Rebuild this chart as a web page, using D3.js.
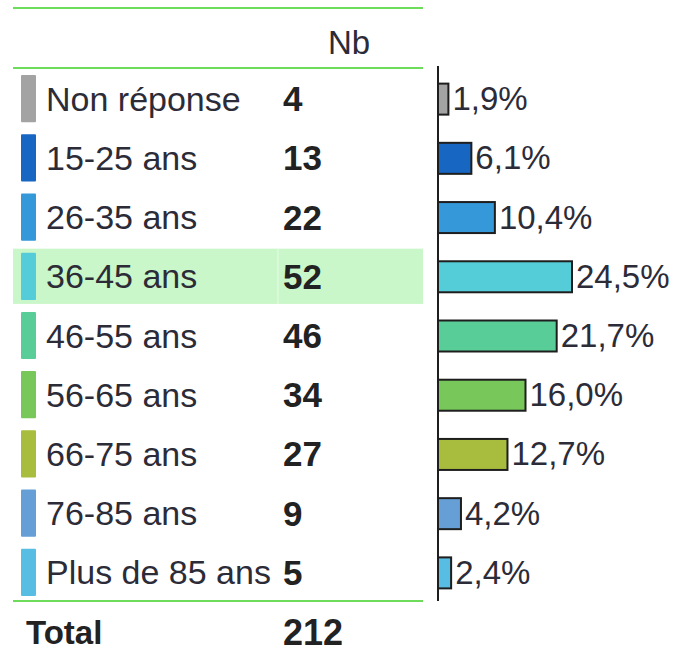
<!DOCTYPE html>
<html>
<head>
    <meta charset="utf-8">
    <style>
        body { margin: 0; background: #ffffff; }
        text { font-family: Arial, "Liberation Sans", sans-serif; }
    </style>
    <script src="https://d3js.org/d3.v7.min.js"></script>
</head>
<body>
<div id="chart"></div>
<script>

    // données
    var categories = ["Non réponse", "15-25 ans", "26-35 ans", "36-45 ans", "46-55 ans",
                      "56-65 ans", "66-75 ans", "76-85 ans", "Plus de 85 ans"];
    var counts = [4, 13, 22, 52, 46, 34, 27, 9, 5];
    var percents = [1.9, 6.1, 10.4, 24.5, 21.7, 16.0, 12.7, 4.2, 2.4];
    var colors = ["#a3a3a3", "#1766c2", "#3598d8", "#55cdd8", "#58cd98",
                  "#77c75b", "#a8bd3d", "#659fd6", "#58bde3"];
    var total = 212;
    var highlighted = "36-45 ans";

    var W = 684, H = 655;
    var textCol = "#2c2c38";
    var lineCol = "#6cdc5a";

    var svg = d3.select("#chart").append("svg")
        .attr("width", W)
        .attr("height", H);

    var y = d3.scaleBand()
        .domain(categories)
        .range([70, 603])
        .paddingInner(0);

    var x = d3.scaleLinear()
        .domain([0, 24.5])
        .range([438, 572]);

    var rows = categories.map(function(c, i) {
        return { cat: c, n: counts[i], pct: percents[i], col: colors[i] };
    });

    // ligne surlignée
    svg.append("rect")
        .attr("x", 13)
        .attr("y", y(highlighted) + 1)
        .attr("width", 410)
        .attr("height", y.bandwidth() - 4)
        .attr("fill", "#c9f7c9");

    svg.append("line")
        .attr("x1", 278).attr("x2", 278)
        .attr("y1", y(highlighted) + 1)
        .attr("y2", y(highlighted) + y.bandwidth() - 3)
        .attr("stroke", "#e8fbe8")
        .attr("stroke-width", 1);

    // lignes vertes du tableau
    [8, 68, 601].forEach(function(ly) {
        svg.append("line")
            .attr("x1", 13).attr("x2", 423)
            .attr("y1", ly).attr("y2", ly)
            .attr("stroke", lineCol)
            .attr("stroke-width", 2);
    });

    svg.append("text")
        .attr("x", 328)
        .attr("y", 42)
        .attr("fill", textCol)
        .attr("font-size", 33)
        .attr("dominant-baseline", "central")
        .text("Nb");

    var table = svg.append("g");

    table.selectAll(".swatch")
        .data(rows)
        .enter()
        .append("rect")
        .attr("class", "swatch")
        .attr("x", 21)
        .attr("y", d => y(d.cat) + 5)
        .attr("width", 15)
        .attr("height", y.bandwidth() - 12)
        .attr("rx", 1)
        .attr("fill", d => d.col);

    table.selectAll(".lab")
        .data(rows)
        .enter()
        .append("text")
        .attr("class", "lab")
        .attr("x", 46)
        .attr("y", d => y(d.cat) + y.bandwidth() / 2 - 1)
        .attr("dominant-baseline", "central")
        .attr("font-size", 34)
        .attr("fill", textCol)
        .text(d => d.cat);

    table.selectAll(".num")
        .data(rows)
        .enter()
        .append("text")
        .attr("class", "num")
        .attr("x", 283)
        .attr("y", d => y(d.cat) + y.bandwidth() / 2 - 1)
        .attr("dominant-baseline", "central")
        .attr("font-size", 35)
        .attr("font-weight", "bold")
        .attr("fill", "#222")
        .text(d => d.n);

    // total
    svg.append("text")
        .attr("x", 26)
        .attr("y", 632)
        .attr("dominant-baseline", "central")
        .attr("font-size", 33)
        .attr("font-weight", "bold")
        .attr("fill", "#222")
        .text("Total");

    svg.append("text")
        .attr("x", 283)
        .attr("y", 632)
        .attr("dominant-baseline", "central")
        .attr("font-size", 36)
        .attr("font-weight", "bold")
        .attr("fill", "#222")
        .text(total);

    // barres
    var bars = svg.append("g");

    bars.selectAll("rect")
        .data(rows)
        .enter()
        .append("rect")
        .attr("x", x(0))
        .attr("y", d => y(d.cat) + y.bandwidth() / 2 - 16)
        .attr("width", d => x(d.pct) - x(0))
        .attr("height", 31)
        .attr("fill", d => d.col)
        .attr("stroke", "#1e1e1e")
        .attr("stroke-width", 2);

    bars.selectAll("text")
        .data(rows)
        .enter()
        .append("text")
        .attr("x", d => x(d.pct) + 4)
        .attr("y", d => y(d.cat) + y.bandwidth() / 2 - 1)
        .attr("dominant-baseline", "central")
        .attr("font-size", 33)
        .attr("fill", textCol)
        .text(d => d3.format(".1f")(d.pct).replace(".", ",") + "%");

    // axe vertical
    svg.append("line")
        .attr("x1", x(0)).attr("x2", x(0))
        .attr("y1", 66).attr("y2", 601)
        .attr("stroke", "#1e1e1e")
        .attr("stroke-width", 2);

</script>
</body>
</html>
